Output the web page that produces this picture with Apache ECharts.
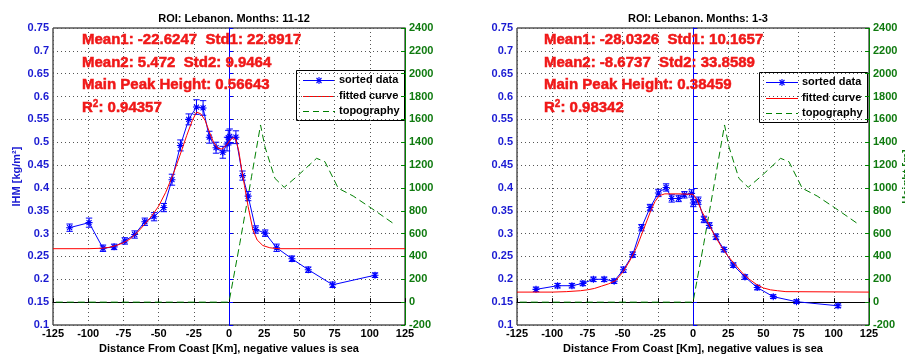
<!DOCTYPE html>
<html><head><meta charset="utf-8">
<script src="https://cdn.jsdelivr.net/npm/echarts@6/dist/echarts.min.js"></script>
<style>html,body{margin:0;padding:0;background:#fff}#c{width:905px;height:354px}</style>
</head><body><div id="c"></div>
<script>
// ---------- data ----------
const titles = ['ROI: Lebanon. Months: 11-12', 'ROI: Lebanon. Months: 1-3'];
const statsLeft = ['Mean1: -22.6247  Std1: 22.8917', 'Mean2: 5.472  Std2: 9.9464', 'Main Peak Height: 0.56643', '0.94357'];
const statsRight = ['Mean1: -28.0326  Std1: 10.1657', 'Mean2: -8.6737  Std2: 33.8589', 'Main Peak Height: 0.38459', '0.98342'];
const xAxisName = 'Distance From Coast [Km], negative values is sea';
const legendNames = ['sorted data', 'fitted curve', 'topography'];

// left chart (months 11-12)
const dataX1 = [-113.2,-99.4,-89.5,-81.6,-74,-67,-59.8,-53.2,-46.3,-40.5,-34.5,-28.6,-23.1,-18.4,-14,-9.2,-4.4,-1.4,-0.5,0.5,4.9,9.6,13.6,19,25.7,33.8,44.7,56.3,73.6,103.7];
const dataY1 = [0.313,0.324,0.268,0.271,0.284,0.298,0.326,0.337,0.357,0.418,0.493,0.55,0.577,0.575,0.511,0.488,0.478,0.496,0.51,0.513,0.511,0.427,0.382,0.309,0.301,0.269,0.245,0.221,0.188,0.209];
const dataE1 = [0.008,0.01,0.007,0.006,0.007,0.008,0.008,0.009,0.009,0.012,0.012,0.012,0.016,0.016,0.013,0.012,0.013,0.015,0.016,0.016,0.014,0.01,0.01,0.008,0.007,0.008,0.006,0.006,0.006,0.005];
const fitX1 = [-125,-100,-90,-85,-80,-75,-70,-65,-60,-55,-50,-45,-40,-35,-30,-26,-23,-20,-17,-14,-11,-8,-5,-2,1,3,5,7,9,11,13.6,17,20,24,29,35,125];
const fitY1 = [0.267,0.267,0.268,0.27,0.274,0.28,0.289,0.303,0.32,0.338,0.36,0.39,0.427,0.47,0.515,0.548,0.566,0.562,0.548,0.523,0.5,0.487,0.485,0.493,0.505,0.51,0.505,0.48,0.44,0.405,0.359,0.308,0.286,0.274,0.269,0.267,0.267];

// right chart (months 1-3)
const dataX2 = [-111.5,-96.2,-86,-78.2,-70.7,-63.1,-56,-49.4,-42.8,-36.6,-30.5,-24.6,-19.1,-15.1,-10.2,-6.1,-1,0.2,3.8,7.8,11.6,16.3,22,28.6,36.9,45.6,57,73.5,103];
const dataY2 = [0.178,0.186,0.186,0.191,0.2,0.2,0.196,0.221,0.254,0.313,0.357,0.389,0.401,0.377,0.377,0.385,0.388,0.367,0.372,0.331,0.318,0.293,0.265,0.231,0.205,0.182,0.162,0.151,0.142];
const dataE2 = [0.005,0.005,0.005,0.005,0.005,0.005,0.005,0.006,0.006,0.007,0.007,0.008,0.008,0.008,0.007,0.007,0.008,0.008,0.008,0.007,0.006,0.006,0.005,0.005,0.005,0.005,0.004,0.004,0.004];
const fitX2 = [-125,-100,-90,-80,-75,-70,-65,-60,-55,-50,-45,-40,-35,-30,-27,-24,-20,-10,0,2,4,6,10,15,20,25,30,35,40,45,50,55,60,66,125];
const fitY2 = [0.172,0.172,0.173,0.175,0.177,0.18,0.185,0.19,0.197,0.215,0.24,0.27,0.31,0.35,0.37,0.383,0.387,0.387,0.386,0.378,0.365,0.35,0.327,0.298,0.272,0.25,0.232,0.214,0.2,0.189,0.181,0.177,0.175,0.173,0.172];

// topography (same for both panels)
const topoX = [-123,-100,-75,-50,-25,0,7.7,16,22.4,25.5,32.6,39.2,48,62.2,68.1,77.6,88.2,101.3,116.6];
const topoY = [0,0,0,0,0,0,515,1098,1551,1361,1084,1005,1098,1259,1230,997,929,821,690];

// ---------- styling ----------
const FONT = 'Liberation Sans, Arial, Helvetica, sans-serif';
const BLUE = '#0000ff', BLUE_T = '#1a1ad2', RED = '#ff0000', RED_T = '#f01818', GREEN = '#008000', GREEN_T = '#0f7a0f';
const STAR = 'path://M-1 0L1 0M0 -1L0 1M-0.72 -0.72L0.72 0.72M-0.72 0.72L0.72 -0.72';
const zip = (a, b) => a.map((v, i) => [v, b[i]]);
const zip3 = (a, b, c) => a.map((v, i) => [v, b[i], c[i]]);

const gridLefts = [53, 517];
const grids = gridLefts.map(l => ({left: l, top: 28, width: 352, height: 297, show: true,
  outerBoundsMode: 'none', containLabel: false,
  borderColor: '#000', borderWidth: 1, backgroundColor: '#fff'}));
const dotted = {type: [1, 3], color: '#555', width: 1};

const xAxes = [0, 1].map(i => ({
  gridIndex: i, type: 'value', min: -125, max: 125, interval: 25,
  axisLine: {show: true, lineStyle: {color: '#000'}},
  axisTick: {show: true, inside: true, length: 4, lineStyle: {color: '#000'}},
  axisLabel: {color: '#000', fontWeight: 'bold', fontSize: 11, fontFamily: FONT, margin: 3},
  splitLine: {show: true, lineStyle: dotted},
  name: xAxisName, nameLocation: 'middle', nameGap: 17,
  nameTextStyle: {color: '#000', fontWeight: 'bold', fontSize: 11, fontFamily: FONT}
}));
const yAxes = [];
[0, 1].forEach(i => {
  yAxes.push({
    gridIndex: i, type: 'value', min: 0.1, max: 0.75, interval: 0.05, position: 'left',
    axisLine: {show: true, lineStyle: {color: BLUE}},
    axisTick: {show: true, inside: true, length: 4, lineStyle: {color: BLUE}},
    axisLabel: {color: BLUE_T, fontWeight: 'bold', fontSize: 11, fontFamily: FONT, margin: 4},
    splitLine: {show: true, lineStyle: dotted},
    name: i === 0 ? 'IHM [kg/m²]' : '', nameLocation: 'middle', nameGap: 31,
    nameTextStyle: {color: BLUE_T, fontWeight: 'bold', fontSize: 11, fontFamily: FONT}
  });
  yAxes.push({
    gridIndex: i, type: 'value', min: -200, max: 2400, interval: 200, position: 'right',
    axisLine: {show: true, lineStyle: {color: GREEN}},
    axisTick: {show: true, inside: true, length: 4, lineStyle: {color: GREEN}},
    axisLabel: {color: GREEN_T, fontWeight: 'bold', fontSize: 11, fontFamily: FONT, margin: 4,
      formatter: v => String(v)},
    splitLine: {show: false},
    name: i === 1 ? 'Height [m]' : '', nameLocation: 'middle', nameGap: 25, nameRotate: 90,
    nameTextStyle: {color: GREEN_T, fontWeight: 'bold', fontSize: 11, fontFamily: FONT}
  });
});

function errRender(params, api) {
  const x = api.value(0), y = api.value(1), e = api.value(2);
  const t = api.coord([x, y + e]), b = api.coord([x, y - e]);
  const w = 3.2, st = {stroke: BLUE, lineWidth: 1};
  return {type: 'group', children: [
    {type: 'line', shape: {x1: t[0], y1: t[1], x2: b[0], y2: b[1]}, style: st},
    {type: 'line', shape: {x1: t[0] - w, y1: t[1], x2: t[0] + w, y2: t[1]}, style: st},
    {type: 'line', shape: {x1: b[0] - w, y1: b[1], x2: b[0] + w, y2: b[1]}, style: st}
  ]};
}

const panels = [
  {dx: dataX1, dy: dataY1, de: dataE1, fx: fitX1, fy: fitY1},
  {dx: dataX2, dy: dataY2, de: dataE2, fx: fitX2, fy: fitY2}
];
const series = [];
panels.forEach((p, i) => {
  series.push({type: 'custom', name: 'err' + i, xAxisIndex: i, yAxisIndex: 2 * i,
    renderItem: errRender, encode: {x: 0, y: 1}, data: zip3(p.dx, p.dy, p.de), z: 3, silent: true});
  series.push({type: 'line', name: legendNames[0], xAxisIndex: i, yAxisIndex: 2 * i,
    data: zip(p.dx, p.dy), symbol: STAR, symbolSize: 7, showSymbol: true,
    lineStyle: {color: BLUE, width: 1}, itemStyle: {color: BLUE, borderColor: BLUE, borderWidth: 1.1},
    z: 4});
  series.push({type: 'line', name: legendNames[1], xAxisIndex: i, yAxisIndex: 2 * i,
    data: zip(p.fx, p.fy), symbol: 'none', lineStyle: {color: RED, width: 1}, itemStyle: {color: RED}, z: 5});
  series.push({type: 'line', name: legendNames[2], xAxisIndex: i, yAxisIndex: 2 * i + 1,
    data: zip(topoX, topoY), symbol: 'none', lineStyle: {color: GREEN, width: 1, type: [7, 4]},
    itemStyle: {color: GREEN}, z: 2});
});

const titleCfg = titles.map((t, i) => ({
  text: t, left: gridLefts[i] + 176, top: 8, textAlign: 'center',
  textStyle: {color: '#000', fontWeight: 'bold', fontSize: 11, fontFamily: FONT}
}));

// legend boxes drawn as graphics (texts as title blocks)
const legendBoxes = [{x: 296.5, y: 70.5}, {x: 759.5, y: 72.5}];
const graphics = [];
legendBoxes.forEach(b => {
  const kids = [{type: 'rect', shape: {x: 0, y: 0, width: 108, height: 50},
    style: {fill: '#fff', stroke: '#000', lineWidth: 1}}];
  const rows = [10, 26, 41];
  const lineStyles = [{stroke: BLUE, lineWidth: 1}, {stroke: RED, lineWidth: 1},
    {stroke: GREEN, lineWidth: 1, lineDash: [6, 4]}];
  rows.forEach((ry, k) => {
    kids.push({type: 'line', shape: {x1: 6.5, y1: ry, x2: 38.5, y2: ry}, style: lineStyles[k]});
    titleCfg.push({text: legendNames[k], left: b.x + 42.5, top: b.y + ry - 7.5, padding: 0, z: 30,
      textStyle: {color: '#000', fontWeight: 'bold', fontSize: 11, fontFamily: FONT, lineHeight: 14}});
  });
  const c = [22.5, rows[0]], r = 3.5, d = 2.5;
  [[-r, 0, r, 0], [0, -r, 0, r], [-d, -d, d, d], [-d, d, d, -d]].forEach(s => {
    kids.push({type: 'line', shape: {x1: c[0] + s[0], y1: c[1] + s[1], x2: c[0] + s[2], y2: c[1] + s[3]},
      style: {stroke: BLUE, lineWidth: 1.1}});
  });
  graphics.push({type: 'group', x: b.x, y: b.y, z: 20, children: kids});
});

// statistics annotations as title blocks (bold red)
const rowY = [40, 62.5, 85, 108];
const redStyle = {color: RED_T, fontWeight: 'bold', fontFamily: FONT, textBorderColor: RED_T, textBorderWidth: 0.5};
[[statsLeft, 82], [statsRight, 544]].forEach(([st, x0]) => {
  st.forEach((s, k) => {
    const isR = k === 3;
    titleCfg.push({
      text: isR ? '{a|R}{s|2}{a|: ' + s + '}' : s,
      left: x0, top: rowY[k] - 9, padding: 0, z: 10,
      textStyle: Object.assign({fontSize: 15, lineHeight: 18}, redStyle, {
        rich: {
          a: Object.assign({fontSize: 15, lineHeight: 18}, redStyle),
          s: Object.assign({fontSize: 10, lineHeight: 10, verticalAlign: 'top'}, redStyle, {textBorderWidth: 0.4})
        }})
    });
  });
});

const chart = echarts.init(document.getElementById('c'), null, {renderer: 'canvas'});
chart.setOption({
  animation: false, backgroundColor: '#fff',
  title: titleCfg, grid: grids, xAxis: xAxes, yAxis: yAxes,
  series: series, graphic: graphics
});
</script></body></html>
